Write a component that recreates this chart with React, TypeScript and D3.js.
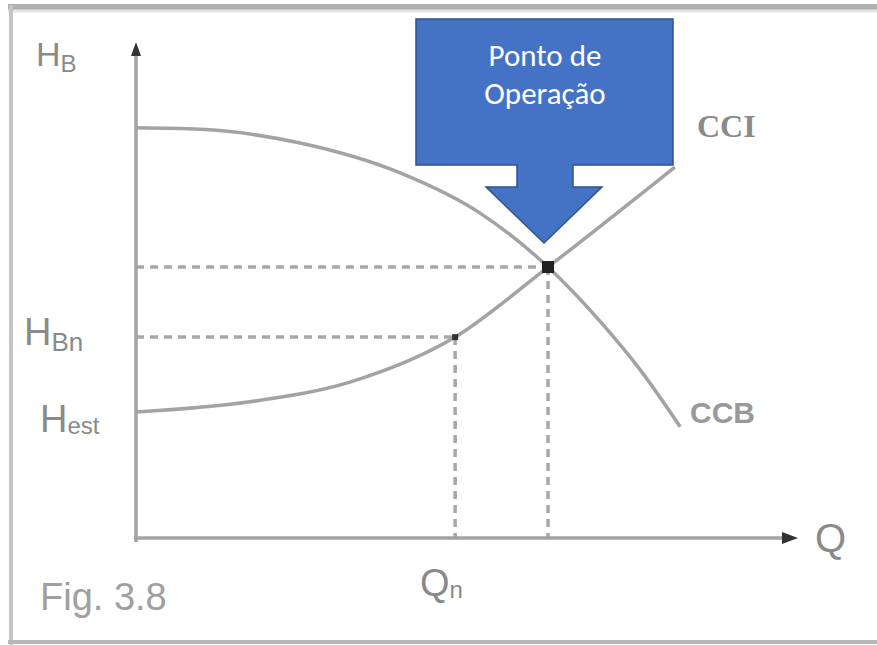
import React from "react";
import * as d3 from "d3";

// Curve data (Q in %, H in %)
const ccbQ = [0, 9.8, 25.1, 40.4, 52.6, 63, 70.9, 77.1, 83.2];
const ccbH = [83.7, 83.4, 80.6, 74.5, 66.3, 55.3, 44.3, 34.3, 22.7];
const cciQ = [0, 17.4, 32.7, 48.8, 63, 82.4];
const cciH = [25.7, 27.8, 31.8, 41.0, 55.3, 75.7];
const operatingPoint = [63, 55.3];
const nominalPoint = [48.8, 41.0];
const calloutLines = ["Ponto de", "Operação"];

const W = 877;
const H = 645;

export default function App() {
  const x = d3.scaleLinear().domain([0, 100]).range([136, 790]);
  const y = d3.scaleLinear().domain([0, 100]).range([538, 48]);
  const line = d3
    .line<[number, number]>()
    .x((d) => x(d[0]))
    .y((d) => y(d[1]))
    .curve(d3.curveMonotoneX);
  const ccb = ccbQ.map((q, i) => [q, ccbH[i]] as [number, number]);
  const cci = cciQ.map((q, i) => [q, cciH[i]] as [number, number]);
  const grey = "#a3a3a3";
  const lbl = "#8a8a8a";
  const [ox, oy] = [x(operatingPoint[0]), y(operatingPoint[1])];
  const [nx, ny] = [x(nominalPoint[0]), y(nominalPoint[1])];

  // callout arrow geometry
  const tipX = ox - 4;
  const tipY = oy - 24;
  const arrowPts = [
    [416, 19],
    [673, 19],
    [673, 165],
    [573, 165],
    [573, 187],
    [602, 187],
    [tipX, tipY],
    [486, 187],
    [517, 187],
    [517, 165],
    [416, 165],
  ];

  const sans = "'Liberation Sans', Arial, sans-serif";
  return (
    <svg
      width={W}
      height={H}
      style={{ position: "absolute", left: 0, top: 0, background: "#fff" }}
      fontFamily={sans}
    >
      {/* frame */}
      <rect x={0} y={0} width={W} height={H} fill="#fff" />
      <line x1={8} x2={W} y1={7} y2={7} stroke="#b0b0b0" strokeWidth={6} />
      <line x1={8} x2={W} y1={11} y2={11} stroke="#e6e6e6" strokeWidth={3} />
      <line x1={11} x2={11} y1={5} y2={645} stroke="#c4c4c4" strokeWidth={4} />
      <line x1={8} x2={W} y1={642} y2={642} stroke="#b8b8b8" strokeWidth={4} />

      {/* dashed guides */}
      <g stroke="#a8a8a8" strokeWidth={3.5} strokeDasharray="8 6" fill="none">
        <line x1={x(0)} x2={ox} y1={oy} y2={oy} />
        <line x1={x(0)} x2={nx} y1={ny} y2={ny} />
        <line x1={ox} x2={ox} y1={oy} y2={y(0)} />
        <line x1={nx} x2={nx} y1={ny} y2={y(0)} />
      </g>

      {/* axes */}
      <line x1={x(0)} x2={x(0)} y1={y(0) + 4} y2={y(100) + 6} stroke={grey} strokeWidth={3.5} />
      <line x1={x(0) - 2} x2={x(100) - 6} y1={y(0)} y2={y(0)} stroke={grey} strokeWidth={3.5} />
      <path
        d={`M${x(0)},${y(100) - 6} L${x(0) - 5},${y(100) + 8} L${x(0) + 5},${y(100) + 8} Z`}
        fill="#333"
      />
      <path
        d={`M${x(100) + 8},${y(0)} L${x(100) - 8},${y(0) - 6} L${x(100) - 8},${y(0) + 6} Z`}
        fill="#333"
      />

      {/* curves */}
      <path d={line(ccb) || ""} fill="none" stroke={grey} strokeWidth={3.5} />
      <path d={line(cci) || ""} fill="none" stroke={grey} strokeWidth={3.5} />

      {/* points */}
      <rect x={ox - 6} y={oy - 6} width={12} height={12} fill="#222" />
      <rect x={nx - 3} y={ny - 3} width={6} height={6} fill="#333" />

      {/* labels */}
      <g fill={lbl}>
        <text x={36} y={66} fontSize={34}>
          H<tspan fontSize={24} dy={6}>B</tspan>
        </text>
        <text x={24} y={345} fontSize={38}>
          H<tspan fontSize={26} dy={6}>Bn</tspan>
        </text>
        <text x={40} y={432} fontSize={38}>
          H<tspan fontSize={24} dy={2}>est</tspan>
        </text>
        <text x={815} y={552} fontSize={40}>Q</text>
        <text x={420} y={596} fontSize={38}>
          Q<tspan fontSize={24} dy={2}>n</tspan>
        </text>
        <text x={40} y={610} fontSize={38} fill="#a0a0a0">Fig. 3.8</text>
        <text x={697} y={137} fontSize={32} fontWeight="bold" fontFamily="'Liberation Serif', serif">CCI</text>
        <text x={690} y={423} fontSize={30} fontWeight="bold" fill="#999">CCB</text>
      </g>

      {/* callout */}
      <polygon
        points={arrowPts.map((p) => p.join(",")).join(" ")}
        fill="#4472C4"
        stroke="#2F528F"
        strokeWidth={1.5}
      />
      <g fill="#fff" fontFamily="Carlito, 'Open Sans', sans-serif" fontSize={31} textAnchor="middle">
        {calloutLines.map((t, i) => (
          <text key={t} x={545} y={66 + i * 38}>
            {t}
          </text>
        ))}
      </g>
    </svg>
  );
}
